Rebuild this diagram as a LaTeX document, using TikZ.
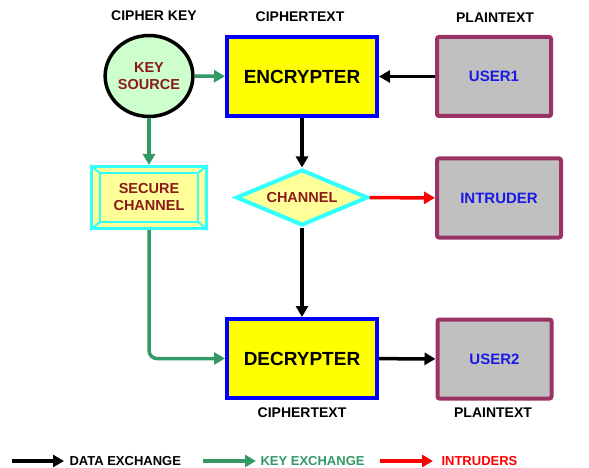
\documentclass[tikz,border=0pt]{standalone}
\usepackage{fontspec}
\setmainfont{Liberation Sans}
\usetikzlibrary{arrows.meta,shapes.geometric}
\definecolor{cryellow}{RGB}{255,255,0}
\definecolor{crpale}{RGB}{255,255,153}
\definecolor{crblue}{RGB}{0,0,255}
\definecolor{crcyan}{RGB}{51,255,255}
\definecolor{crgray}{RGB}{192,192,192}
\definecolor{crpurple}{RGB}{153,51,102}
\definecolor{cruser}{RGB}{26,26,230}
\definecolor{crbrown}{RGB}{139,26,26}
\definecolor{crmint}{RGB}{204,255,204}
\definecolor{crgreen}{RGB}{51,153,102}
\definecolor{crred}{RGB}{255,0,0}

\begin{document}
\begin{tikzpicture}[x=1pt,y=-1pt,
  heading/.style={font=\bfseries\fontsize{14}{14}\selectfont},
  cryptbox/.style={draw=crblue, line width=4pt, fill=cryellow, minimum width=150pt, minimum height=79pt, font=\bfseries\fontsize{19}{19}\selectfont},
  userbox/.style={draw=crpurple, line width=4pt, fill=crgray, rounded corners=2pt, minimum height=79pt, text=cruser, font=\bfseries\fontsize{15}{15}\selectfont},
  inner/.style={text=crbrown, align=center, font=\bfseries\fontsize{14.5}{17}\selectfont},
  data/.style={-{Triangle[length=11pt,width=12pt]}, line width=3.5pt},
  keyx/.style={data, crgreen},
  intr/.style={data, crred},
  legend/.style={anchor=west, font=\bfseries\fontsize{13}{13}\selectfont}]
\useasboundingbox (0,0) rectangle (589,468);
% Column headings
\node[heading] (hkey) at (154,16) {CIPHER KEY};
\node[heading] (hcipher) at (300,17) {CIPHERTEXT};
\node[heading] (hplain) at (495,18) {PLAINTEXT};
% Key source and secure channel
\node[ellipse, draw, line width=3.5pt, fill=crmint, minimum width=74pt, minimum height=81pt, inner sep=0pt, inner] (keysrc) at (149,76) {KEY\\SOURCE};
\node[draw=crcyan, line width=3pt, fill=crpale, minimum width=115pt, minimum height=62pt, inner] (secure) at (149,197.5) {SECURE\\CHANNEL};
\draw[crcyan, line width=2.5pt] ([shift={(10,8)}]secure.north west) rectangle ([shift={(-10,-8)}]secure.south east);
\draw[crcyan, line width=2pt] (secure.north west) -- ++(10,8) (secure.north east) -- ++(-10,8)
  (secure.south west) -- ++(10,-8) (secure.south east) -- ++(-10,-8);
% Encrypter, channel and decrypter
\node[cryptbox] (enc) at (302,76.5) {ENCRYPTER};
\node[diamond, draw=crcyan, line width=4pt, fill=crpale, aspect=2.4, minimum width=132pt, minimum height=56pt, inner sep=0pt, inner] (chan) at (302,197.5) {CHANNEL};
\node[cryptbox] (dec) at (302,358.5) {DECRYPTER};
% Users and intruder
\node[userbox, minimum width=114pt] (user1) at (494,76.5) {USER1};
\node[userbox, minimum width=124pt] (intruder) at (499,198) {INTRUDER};
\node[userbox, minimum width=114pt] (user2) at (494.5,359) {USER2};
% Bottom headings
\node[heading] (bcipher) at (302,413) {CIPHERTEXT};
\node[heading] (bplain) at (493,413) {PLAINTEXT};
% Data flow
\draw[data] (user1) -- (enc);
\draw[data] (enc) -- (chan);
\draw[data] (chan) -- (dec);
\draw[data] (dec) -- (user2);
\draw[intr] (chan) -- (intruder);
% Key flow
\draw[keyx] (keysrc) -- (enc);
\draw[keyx] (keysrc) -- (secure);
\draw[keyx, rounded corners=8pt] (secure.south) |- (dec.west);
% Legend
\coordinate (l1a) at (12,461);
\coordinate (l1b) at (64,461);
\coordinate (l2a) at (203,461);
\coordinate (l2b) at (256,461);
\coordinate (l3a) at (380,461);
\coordinate (l3b) at (433,461);
\draw[data] (l1a) -- (l1b);
\draw[keyx] (l2a) -- (l2b);
\draw[intr] (l3a) -- (l3b);
\node[legend] (ldata) at (66,461) {DATA EXCHANGE};
\node[legend, text=crgreen] (lkey) at (257,461) {KEY EXCHANGE};
\node[legend, text=crred] (lintr) at (438,461) {INTRUDERS};
\end{tikzpicture}
\end{document}
